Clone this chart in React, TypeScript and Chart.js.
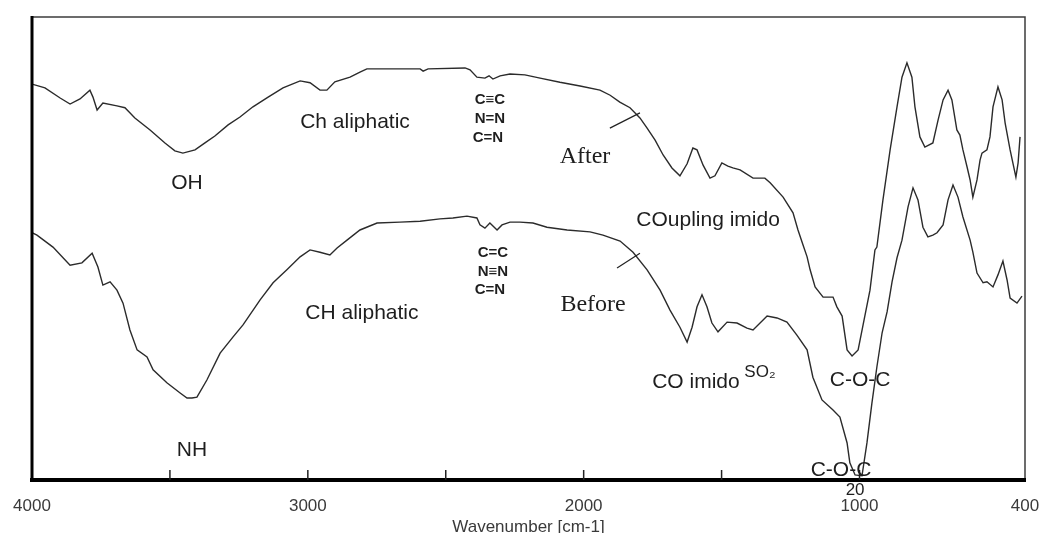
import React, { useEffect, useRef } from 'react';
import { Chart, registerables } from 'chart.js';

Chart.register(...registerables);

// Wavenumber (cm-1) and relative transmittance (%)
const afterWn = [4000, 3953, 3898, 3862, 3826, 3790, 3779, 3764, 3743, 3692, 3663, 3627, 3572, 3518, 3482, 3453, 3409, 3373, 3337, 3289, 3246, 3199, 3144, 3090, 3028, 2992, 2956, 2931, 2902, 2847, 2811, 2786, 2738, 2593, 2582, 2564, 2430, 2412, 2387, 2358, 2343, 2329, 2303, 2267, 2213, 2158, 2086, 2013, 1941, 1904, 1869, 1832, 1796, 1770, 1741, 1712, 1680, 1651, 1625, 1604, 1589, 1567, 1542, 1524, 1499, 1477, 1459, 1433, 1386, 1343, 1324, 1277, 1241, 1223, 1205, 1190, 1179, 1161, 1132, 1096, 1082, 1063, 1045, 1027, 1005, 987, 962, 944, 937, 915, 889, 864, 846, 828, 810, 799, 781, 763, 734, 715, 697, 679, 665, 647, 636, 625, 610, 599, 589, 574, 563, 556, 538, 527, 516, 498, 483, 472, 454, 444, 433, 425, 418];
const afterT = [85.5, 84.7, 82.5, 81.2, 82.3, 84.2, 82.7, 79.9, 81.4, 80.8, 80.4, 78.2, 75.6, 72.8, 71.1, 70.6, 71.3, 72.8, 74.3, 76.7, 78.4, 80.6, 82.7, 84.7, 86.2, 85.8, 84.2, 84.2, 86.0, 87.0, 88.1, 88.8, 88.8, 88.8, 88.3, 88.8, 89.0, 88.6, 87.0, 86.8, 87.3, 86.6, 87.3, 87.7, 87.5, 86.8, 85.9, 85.1, 84.2, 83.1, 81.6, 80.4, 78.2, 76.0, 73.4, 70.2, 67.4, 65.7, 68.3, 71.7, 71.3, 68.0, 65.2, 65.7, 68.5, 67.8, 67.4, 67.0, 65.2, 65.2, 64.2, 61.1, 57.7, 54.0, 50.8, 48.2, 45.4, 41.7, 39.5, 39.5, 37.4, 35.4, 28.1, 26.8, 28.1, 33.5, 41.0, 49.7, 50.3, 60.5, 71.3, 80.6, 87.0, 90.1, 87.0, 80.6, 74.1, 71.9, 72.8, 77.8, 82.1, 84.2, 82.1, 75.6, 74.5, 71.3, 67.6, 64.8, 61.1, 64.8, 69.1, 70.6, 71.3, 74.1, 80.6, 84.9, 82.1, 77.1, 71.3, 68.5, 65.4, 68.5, 74.1];

const beforeWn = [4000, 3982, 3924, 3862, 3819, 3782, 3761, 3743, 3717, 3692, 3670, 3645, 3619, 3583, 3561, 3511, 3463, 3438, 3420, 3402, 3366, 3318, 3271, 3235, 3173, 3126, 3076, 3028, 2992, 2956, 2920, 2894, 2858, 2811, 2749, 2666, 2593, 2521, 2474, 2423, 2387, 2376, 2358, 2340, 2314, 2296, 2267, 2231, 2184, 2133, 2060, 1977, 1930, 1868, 1821, 1770, 1723, 1687, 1651, 1625, 1607, 1589, 1571, 1553, 1535, 1513, 1480, 1444, 1408, 1386, 1335, 1299, 1263, 1227, 1190, 1169, 1136, 1096, 1071, 1045, 1035, 1016, 991, 973, 955, 937, 918, 900, 882, 864, 846, 824, 806, 788, 770, 752, 734, 719, 697, 679, 661, 643, 625, 599, 589, 574, 552, 538, 516, 498, 480, 465, 454, 429, 411];
const beforeT = [53.4, 52.9, 50.3, 46.4, 46.9, 49.0, 46.0, 42.1, 42.8, 41.0, 38.2, 32.4, 28.1, 26.6, 23.8, 21.0, 18.8, 17.7, 17.7, 17.9, 21.6, 27.4, 30.9, 33.5, 38.9, 42.6, 45.4, 48.2, 49.7, 49.2, 48.6, 50.1, 51.8, 54.0, 55.5, 55.7, 55.9, 56.4, 56.6, 57.0, 56.6, 55.1, 54.4, 55.5, 54.0, 55.1, 55.7, 55.7, 55.5, 54.6, 54.0, 53.6, 52.9, 51.6, 49.2, 45.4, 41.0, 36.7, 33.0, 29.8, 33.0, 37.4, 40.0, 37.4, 33.9, 32.0, 34.1, 33.9, 32.8, 32.4, 35.4, 35.0, 34.1, 31.3, 28.1, 22.2, 17.3, 15.1, 13.6, 8.0, 3.7, 1.1, 0.9, 8.0, 16.6, 24.4, 31.8, 36.3, 42.8, 48.0, 51.8, 59.0, 63.1, 60.5, 54.6, 52.5, 52.9, 53.4, 55.1, 60.5, 63.7, 61.1, 56.8, 51.8, 49.2, 44.7, 42.6, 42.8, 41.7, 44.3, 47.3, 43.2, 39.3, 38.2, 39.7];

const xTickValues = [4000, 3500, 3000, 2500, 2000, 1500, 1000, 400];
const xTickLabels = ['4000', '', '3000', '', '2000', '', '1000', '400'];
const xTitle = 'Wavenumber [cm-1]';

// Band labels, placed in data units (wavenumber, transmittance)
const bandLabels = [
  { text: 'OH', wn: 3438, t: 64.2, kind: 'sans' },
  { text: 'Ch aliphatic', wn: 2829, t: 77.3, kind: 'sans' },
  { text: 'C≡C', wn: 2340, t: 82.1, kind: 'bond' },
  { text: 'N=N', wn: 2340, t: 78.0, kind: 'bond' },
  { text: 'C=N', wn: 2347, t: 73.9, kind: 'bond' },
  { text: 'After', wn: 1995, t: 69.8, kind: 'serif' },
  { text: 'COupling imido', wn: 1549, t: 56.2, kind: 'sans' },
  { text: 'CH aliphatic', wn: 2804, t: 36.1, kind: 'sans' },
  { text: 'C=C', wn: 2329, t: 49.0, kind: 'bond' },
  { text: 'N≡N', wn: 2329, t: 44.9, kind: 'bond' },
  { text: 'C=N', wn: 2340, t: 41.0, kind: 'bond' },
  { text: 'Before', wn: 1966, t: 37.8, kind: 'serif' },
  { text: 'NH', wn: 3420, t: 6.5, kind: 'sans' },
  { text: 'CO imido', wn: 1593, t: 21.2, kind: 'sans' },
  { text: 'SO₂', wn: 1361, t: 23.3, kind: 'small' },
  { text: 'C-O-C', wn: 998, t: 21.6, kind: 'sans' },
  { text: 'C-O-C', wn: 1067, t: 2.2, kind: 'sans' },
  { text: '20', wn: 1016, t: -2.2, kind: 'small' },
];

const leaderLines = [
  { wn1: 1905, t1: 76.0, wn2: 1796, t2: 79.3 },
  { wn1: 1879, t1: 45.8, wn2: 1796, t2: 49.0 },
];

const fonts: Record<string, string> = {
  sans: '21px "Liberation Sans", Arial, sans-serif',
  serif: '24px "Liberation Serif", "Times New Roman", serif',
  bond: 'bold 15px "Liberation Sans", Arial, sans-serif',
  small: '17px "Liberation Sans", Arial, sans-serif',
};

const framePlugin = {
  id: 'frameAndLabels',
  afterDraw(chart: any) {
    const { ctx, chartArea: a, scales } = chart;
    const xs = scales.x;
    const ys = scales.y;
    ctx.save();
    // thin top / right frame
    ctx.strokeStyle = '#3c3c3c';
    ctx.lineWidth = 1.5;
    ctx.beginPath();
    ctx.moveTo(a.left, a.top);
    ctx.lineTo(a.right, a.top);
    ctx.lineTo(a.right, a.bottom);
    ctx.stroke();
    // thick left / bottom axes
    ctx.strokeStyle = '#000';
    ctx.lineWidth = 3;
    ctx.beginPath();
    ctx.moveTo(a.left, a.top - 1);
    ctx.lineTo(a.left, a.bottom);
    ctx.stroke();
    ctx.lineWidth = 4;
    ctx.beginPath();
    ctx.moveTo(a.left - 2, a.bottom);
    ctx.lineTo(a.right + 1, a.bottom);
    ctx.stroke();
    // inward tick marks
    ctx.lineWidth = 1.5;
    ctx.strokeStyle = '#222';
    for (const tk of xs.ticks) {
      if (tk.value === 4000 || tk.value === 400) continue;
      const px = xs.getPixelForValue(tk.value);
      ctx.beginPath();
      ctx.moveTo(px, a.bottom);
      ctx.lineTo(px, a.bottom - 10);
      ctx.stroke();
    }
    // leader lines
    ctx.strokeStyle = '#222';
    ctx.lineWidth = 1.2;
    for (const l of leaderLines) {
      ctx.beginPath();
      ctx.moveTo(xs.getPixelForValue(l.wn1), ys.getPixelForValue(l.t1));
      ctx.lineTo(xs.getPixelForValue(l.wn2), ys.getPixelForValue(l.t2));
      ctx.stroke();
    }
    // band labels
    ctx.fillStyle = '#1e1e1e';
    ctx.textAlign = 'center';
    ctx.textBaseline = 'middle';
    for (const b of bandLabels) {
      ctx.font = fonts[b.kind];
      ctx.fillText(b.text, xs.getPixelForValue(b.wn), ys.getPixelForValue(b.t));
    }
    ctx.restore();
  },
};

export default function App() {
  const canvasRef = useRef<HTMLCanvasElement | null>(null);

  useEffect(() => {
    const canvas = canvasRef.current;
    if (!canvas) return;
    const chart = new Chart(canvas, {
      type: 'line',
      data: {
        datasets: [
          {
            label: 'After',
            data: afterWn.map((w, i) => ({ x: w, y: afterT[i] })),
            borderColor: '#2b2b2b',
            borderWidth: 1.4,
            pointRadius: 0,
            tension: 0,
            fill: false,
          },
          {
            label: 'Before',
            data: beforeWn.map((w, i) => ({ x: w, y: beforeT[i] })),
            borderColor: '#2b2b2b',
            borderWidth: 1.4,
            pointRadius: 0,
            tension: 0,
            fill: false,
          },
        ],
      },
      options: {
        responsive: false,
        animation: false,
        layout: { padding: { left: 32, right: 20, top: 17, bottom: 0 } },
        plugins: {
          legend: { display: false },
          tooltip: { enabled: false },
        },
        scales: {
          x: {
            type: 'linear',
            min: 400,
            max: 4000,
            reverse: true,
            afterBuildTicks: (scale: any) => {
              scale.ticks = xTickValues.map((v) => ({ value: v }));
            },
            afterFit: (scale: any) => {
              scale.height = 53;
              scale.paddingLeft = 0;
              scale.paddingRight = 0;
            },
            grid: { display: false, drawTicks: false, tickLength: 0 },
            border: { display: false },
            ticks: {
              autoSkip: false,
              maxRotation: 0,
              padding: 18,
              color: '#3a3a3a',
              font: { family: '"Liberation Sans", Arial, sans-serif', size: 17, lineHeight: 1 },
              callback: (value: any) => {
                const i = xTickValues.indexOf(Number(value));
                return i >= 0 ? xTickLabels[i] : '';
              },
            },
            title: {
              display: true,
              text: xTitle,
              color: '#3a3a3a',
              padding: { top: 6, bottom: 0 },
              font: { family: '"Liberation Sans", Arial, sans-serif', size: 17, lineHeight: '12px' },
            },
          },
          y: {
            type: 'linear',
            min: 0,
            max: 100,
            display: false,
          },
        },
      },
      plugins: [framePlugin],
    });
    return () => chart.destroy();
  }, []);

  return (
    <div style={{ position: 'fixed', left: 0, top: 0, width: 1045, height: 533, background: '#fff' }}>
      <canvas ref={canvasRef} width={1045} height={533} style={{ width: 1045, height: 533, display: 'block' }} />
    </div>
  );
}
